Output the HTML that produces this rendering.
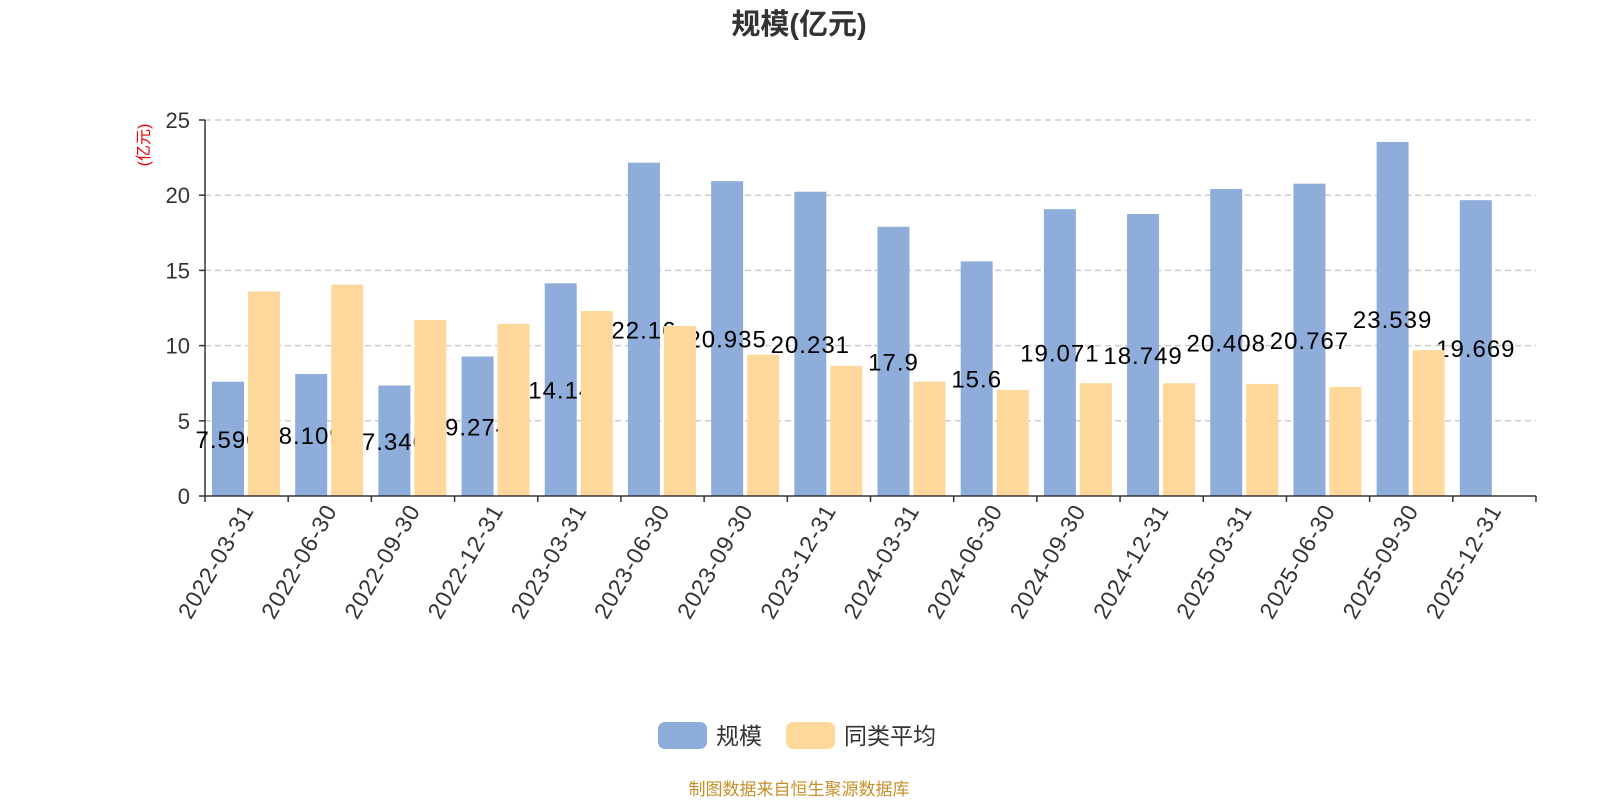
<!DOCTYPE html>
<html><head><meta charset="utf-8"><style>
body{margin:0;background:#fff;width:1600px;height:800px;overflow:hidden}
svg text{font-family:"Liberation Sans","Noto Sans CJK SC",sans-serif}
</style></head><body>
<svg id="c" width="1600" height="800"></svg>
<script>
const categories=["2022-03-31","2022-06-30","2022-09-30","2022-12-31","2023-03-31","2023-06-30","2023-09-30","2023-12-31","2024-03-31","2024-06-30","2024-09-30","2024-12-31","2025-03-31","2025-06-30","2025-09-30","2025-12-31"];
const scaleValues=[7.596,8.109,7.346,9.274,14.14,22.16,20.935,20.231,17.9,15.6,19.071,18.749,20.408,20.767,23.539,19.669];
const avgValues=[13.6,14.05,11.7,11.45,12.3,11.3,9.4,8.65,7.6,7.05,7.5,7.5,7.45,7.25,9.7,null];
const yTicks=[0,5,10,15,20,25];
const NS="http://www.w3.org/2000/svg";
const svg=document.getElementById('c');
const X0=205,X1=1536,Y0=496,Y1=120,YMAX=25;
const bw=(X1-X0)/categories.length;
const y=v=>Y0-(v/YMAX)*(Y0-Y1);
const xb=i=>X0+i*bw;
function el(t,a,txt){const e=document.createElementNS(NS,t);for(const k in a)e.setAttribute(k,a[k]);if(txt!==undefined)e.textContent=txt;svg.appendChild(e);return e;}
let e=el('text',{x:799,y:34,'text-anchor':'middle','font-size':29,'font-weight':'bold',fill:'#333'},'规模(亿元)');


e=el('text',{x:0,y:0,transform:'translate(149,145) rotate(-90)','text-anchor':'middle','font-size':16,fill:'#e00'},'(亿元)');


yTicks.forEach(t=>{
 if(t>0){e=el('line',{x1:X0,x2:X1,y1:y(t),y2:y(t),stroke:'#ccc','stroke-dasharray':'6,4','stroke-width':1.5});
 
 }
 e=el('text',{x:190,y:y(t)+8,'text-anchor':'end','font-size':22,fill:'#333'},String(t));
 
 
 e=el('line',{x1:199,x2:X0,y1:y(t),y2:y(t),stroke:'#333','stroke-width':1.5});
 
 
});
e=el('line',{x1:X0,x2:X0,y1:Y1,y2:Y0,stroke:'#333','stroke-width':1.5});


categories.forEach((c,i)=>{
 const b=el('rect',{x:xb(i)+7,y:y(scaleValues[i]),width:32,height:Y0-y(scaleValues[i]),fill:'#8eadda'});
 
 
 const l=el('text',{x:xb(i)+23,y:y(scaleValues[i]/2)+9,'text-anchor':'middle','font-size':24,'letter-spacing':1,fill:'#000'},String(scaleValues[i]));
 
 
});
categories.forEach((c,i)=>{
 if(avgValues[i]!=null){
 const b=el('rect',{x:xb(i)+43,y:y(avgValues[i]),width:32,height:Y0-y(avgValues[i]),fill:'#fed89b'});
 
 }
 const tx=xb(i)+bw/2;
 const t=el('text',{x:0,y:0,transform:`translate(${tx+8},${Y0+14}) rotate(-60)`,'text-anchor':'end','font-size':23,'letter-spacing':1,fill:'#333'},c);
 
 
});
for(let i=0;i<=categories.length;i++){
 e=el('line',{x1:xb(i),x2:xb(i),y1:Y0,y2:Y0+6,stroke:'#333','stroke-width':1.5});
 
 
}
e=el('line',{x1:X0,x2:X1,y1:Y0,y2:Y0,stroke:'#333','stroke-width':1.5});


e=el('rect',{x:658,y:722,width:49,height:27,rx:7,fill:'#8eadda'});


e=el('text',{x:716,y:744,'font-size':23,fill:'#333'},'规模');


e=el('rect',{x:786,y:722,width:49,height:27,rx:7,fill:'#fed89b'});


e=el('text',{x:844,y:744,'font-size':23,fill:'#333'},'同类平均');


e=el('text',{x:799,y:795,'text-anchor':'middle','font-size':17,fill:'#c8902a'},'制图数据来自恒生聚源数据库');


</script>
</body></html>
